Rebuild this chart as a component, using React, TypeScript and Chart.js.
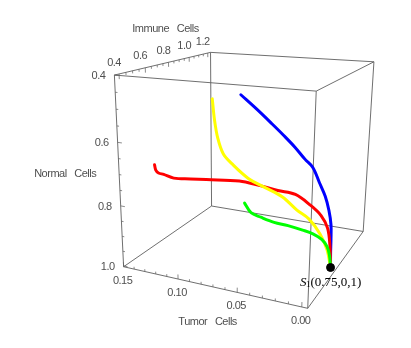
import React, { useEffect, useRef } from "react";
import { Chart, registerables } from "chart.js";

Chart.register(...registerables);

// ---- plot box ranges (tumor, immune, normal) ----
const TUMOR_RANGE = [-0.0044, 0.15];
const IMMUNE_RANGE = [0.367, 1.232];
const NORMAL_RANGE = [0.4, 1.0027];

// ---- ticks ----
const tumorTicks = [0, 0.05, 0.1, 0.15];
const tumorTickLabels = ["0.00", "0.05", "0.10", "0.15"];
const tumorMinorStep = 0.01;
const immuneTicks = [0.4, 0.6, 0.8, 1.0, 1.2];
const immuneTickLabels = ["0.4", "0.6", "0.8", "1.0", "1.2"];
const immuneMinorStep = 0.05;
const normalTicks = [0.4, 0.6, 0.8, 1.0];
const normalTickLabels = ["0.4", "0.6", "0.8", "1.0"];
const normalMinorStep = 0.05;

const axisTitles = { tumor: "Tumor   Cells", immune: "Immune   Cells", normal: "Normal   Cells" };

// ---- trajectories (tumor, immune, normal) ----
const blueTumor = [0.085, 0.07, 0.056, 0.044, 0.034, 0.024, 0.017, 0.01, 0.005, 0.001, 0, 0, 0, 0];
const blueImmune = [0.821, 0.81, 0.8, 0.778, 0.767, 0.745, 0.735, 0.713, 0.713, 0.702, 0.724, 0.735, 0.74, 0.75];
const blueNormal = [0.49, 0.53, 0.57, 0.6, 0.63, 0.66, 0.68, 0.72, 0.76, 0.8, 0.85, 0.9, 0.95, 1.0];

const redTumor = [0.135, 0.134, 0.132, 0.128, 0.12, 0.107, 0.095, 0.07, 0.055, 0.04, 0.027, 0.015, 0.007, 0.002, 0, 0];
const redImmune = [0.518, 0.518, 0.522, 0.529, 0.54, 0.562, 0.583, 0.627, 0.648, 0.659, 0.681, 0.691, 0.702, 0.713, 0.724, 0.75];
const redNormal = [0.69, 0.707, 0.716, 0.72, 0.73, 0.73, 0.73, 0.73, 0.74, 0.75, 0.76, 0.79, 0.82, 0.86, 0.92, 1.0];

const yellowTumor = [0.11, 0.108, 0.105, 0.1, 0.092, 0.076, 0.06, 0.044, 0.03, 0.019, 0.009, 0.003, 0];
const yellowImmune = [0.81, 0.81, 0.81, 0.81, 0.81, 0.8, 0.789, 0.778, 0.756, 0.745, 0.735, 0.74, 0.75];
const yellowNormal = [0.51, 0.58, 0.64, 0.69, 0.72, 0.76, 0.78, 0.8, 0.83, 0.85, 0.89, 0.94, 1.0];

const greenTumor = [0.08, 0.074, 0.065, 0.053, 0.04, 0.026, 0.016, 0.008, 0.003, 0.001, 0];
const greenImmune = [0.81, 0.81, 0.81, 0.81, 0.8, 0.778, 0.756, 0.745, 0.74, 0.745, 0.75];
const greenNormal = [0.85, 0.88, 0.89, 0.9, 0.9, 0.9, 0.9, 0.91, 0.93, 0.96, 1.0];

// equilibrium S1 = (immune, tumor, normal)
const s1Tumor = 0;
const s1Immune = 0.75;
const s1Normal = 1;

// ---- view (perspective camera) ----
const CAMERA_EYE = [1.3078, -3.0414, 0.9719];
const CAMERA_YAW = 2.0184;
const CAMERA_PITCH = 0.2811;
const CAMERA_FOCAL = 664.87;
const VIEW_CENTER = [226.69, 158.12];
const BOX_SCALE = [0.9993, 1.0066, 1];
const VIEW_W = 411;
const VIEW_H = 348;

const frac = (v: number, r: number[]) => (v - r[0]) / (r[1] - r[0]);

function project(T: number, I: number, N: number) {
  const W = [
    BOX_SCALE[0] * (0.5 - frac(T, TUMOR_RANGE)),
    BOX_SCALE[1] * (frac(I, IMMUNE_RANGE) - 0.5),
    BOX_SCALE[2] * (0.5 - frac(N, NORMAL_RANGE)),
  ];
  const fw = [
    Math.cos(CAMERA_PITCH) * Math.cos(CAMERA_YAW),
    Math.cos(CAMERA_PITCH) * Math.sin(CAMERA_YAW),
    -Math.sin(CAMERA_PITCH),
  ];
  const r = [Math.sin(CAMERA_YAW), -Math.cos(CAMERA_YAW), 0];
  const u = [r[1] * fw[2] - r[2] * fw[1], r[2] * fw[0] - r[0] * fw[2], r[0] * fw[1] - r[1] * fw[0]];
  const q = [W[0] - CAMERA_EYE[0], W[1] - CAMERA_EYE[1], W[2] - CAMERA_EYE[2]];
  const d = (a: number[], b: number[]) => a[0] * b[0] + a[1] * b[1] + a[2] * b[2];
  const zc = d(q, fw);
  return { x: VIEW_CENTER[0] + (CAMERA_FOCAL * d(q, r)) / zc, y: VIEW_CENTER[1] - (CAMERA_FOCAL * d(q, u)) / zc };
}

const curve = (t: number[], i: number[], n: number[]) => t.map((v, k) => project(v, i[k], n[k]));

const EDGE_COLOR = "rgba(95,95,95,0.9)";
const TEXT_COLOR = "#4f4f4f";
const LABEL_FONT = "11px 'Liberation Sans', Arial, sans-serif";

function boxEdges() {
  const Ts = TUMOR_RANGE, Is = IMMUNE_RANGE, Ns = NORMAL_RANGE;
  const edges: number[][][] = [];
  for (const i of Is) for (const n of Ns) edges.push([[Ts[0], i, n], [Ts[1], i, n]]);
  for (const t of Ts) for (const n of Ns) edges.push([[t, Is[0], n], [t, Is[1], n]]);
  for (const t of Ts) for (const i of Is) edges.push([[t, i, Ns[0]], [t, i, Ns[1]]]);
  return edges.map((e) => ({
    type: "scatter" as const,
    data: e.map((p) => project(p[0], p[1], p[2])),
    showLine: true,
    borderColor: EDGE_COLOR,
    borderWidth: 1,
    pointRadius: 0,
    tension: 0,
    order: 10,
  }));
}

const isMajor = (v: number, majors: number[]) => majors.some((m) => Math.abs(m - v) < 1e-6);

const framePlugin = {
  id: "frame3d",
  beforeDatasetsDraw(chart: any) {
    const ctx: CanvasRenderingContext2D = chart.ctx;
    const sx = chart.scales.x, sy = chart.scales.y;
    const P = (T: number, I: number, N: number) => {
      const p = project(T, I, N);
      return [sx.getPixelForValue(p.x), sy.getPixelForValue(p.y)];
    };
    const seg = (a: number[], b: number[]) => {
      ctx.beginPath();
      ctx.moveTo(a[0], a[1]);
      ctx.lineTo(b[0], b[1]);
      ctx.stroke();
    };
    const tSpan = TUMOR_RANGE[1] - TUMOR_RANGE[0];
    const nSpan = NORMAL_RANGE[1] - NORMAL_RANGE[0];
    ctx.save();
    ctx.strokeStyle = EDGE_COLOR;
    ctx.lineWidth = 0.8;
    // tumor axis: edge immune=min, normal=max ; ticks point up
    for (let k = 0; k * tumorMinorStep <= 0.15 + 1e-9; k++) {
      const t = +(k * tumorMinorStep).toFixed(4);
      const len = isMajor(t, tumorTicks) ? 0.025 : 0.013;
      seg(P(t, IMMUNE_RANGE[0], NORMAL_RANGE[1]), P(t, IMMUNE_RANGE[0], NORMAL_RANGE[1] - len * nSpan));
    }
    // immune axis: edge tumor=max, normal=min ; ticks point down
    for (let k = 8; k * immuneMinorStep <= 1.2 + 1e-9; k++) {
      const i = +(k * immuneMinorStep).toFixed(4);
      const len = isMajor(i, immuneTicks) ? 0.025 : 0.013;
      seg(P(TUMOR_RANGE[1], i, NORMAL_RANGE[0]), P(TUMOR_RANGE[1], i, NORMAL_RANGE[0] + len * nSpan));
    }
    // normal axis: edge tumor=max, immune=min ; ticks point into box
    for (let k = 8; k * normalMinorStep <= 1.0 + 1e-9; k++) {
      const n = +(k * normalMinorStep).toFixed(4);
      const len = isMajor(n, normalTicks) ? 0.025 : 0.013;
      seg(P(TUMOR_RANGE[1], IMMUNE_RANGE[0], n), P(TUMOR_RANGE[1] - len * tSpan, IMMUNE_RANGE[0], n));
    }
    // labels
    ctx.fillStyle = TEXT_COLOR;
    ctx.font = LABEL_FONT;
    (ctx as any).letterSpacing = "-0.5px";
    ctx.textBaseline = "middle";
    ctx.textAlign = "center";
    tumorTicks.forEach((t, k) => {
      const p = P(t, IMMUNE_RANGE[0], NORMAL_RANGE[1]);
      ctx.fillText(tumorTickLabels[k], p[0] - 1, p[1] + 14);
    });
    immuneTicks.forEach((i, k) => {
      const p = P(TUMOR_RANGE[1], i, NORMAL_RANGE[0]);
      ctx.fillText(immuneTickLabels[k], p[0] - 5, p[1] - 11.5);
    });
    ctx.textAlign = "right";
    normalTicks.forEach((n, k) => {
      const p = P(TUMOR_RANGE[1], IMMUNE_RANGE[0], n);
      ctx.fillText(normalTickLabels[k], p[0] - 9, p[1] + 1);
    });
    // axis titles
    ctx.textAlign = "center";
    const tm = P((TUMOR_RANGE[0] + TUMOR_RANGE[1]) / 2, IMMUNE_RANGE[0], NORMAL_RANGE[1]);
    ctx.fillText(axisTitles.tumor, tm[0] - 2, tm[1] + 36);
    const im = P(TUMOR_RANGE[1], 0.8, NORMAL_RANGE[0]);
    ctx.fillText(axisTitles.immune, im[0] - 3, im[1] - 33);
    const nm = P(TUMOR_RANGE[1], IMMUNE_RANGE[0], (NORMAL_RANGE[0] + NORMAL_RANGE[1]) / 2);
    ctx.fillText(axisTitles.normal, nm[0] - 54, nm[1] - 1.5);
    ctx.restore();
  },
  afterDatasetsDraw(chart: any) {
    const ctx: CanvasRenderingContext2D = chart.ctx;
    const p = project(s1Tumor, s1Immune, s1Normal);
    const x = chart.scales.x.getPixelForValue(p.x) - 30.6;
    const y = chart.scales.y.getPixelForValue(p.y) + 18.6;
    ctx.save();
    ctx.fillStyle = "#000";
    ctx.textBaseline = "alphabetic";
    ctx.textAlign = "left";
    ctx.font = "italic 13px 'Liberation Serif', 'Times New Roman', serif";
    ctx.fillText("S", x, y);
    let cx = x + ctx.measureText("S").width;
    ctx.font = "9px 'Liberation Serif', 'Times New Roman', serif";
    ctx.fillText("1", cx - 0.5, y + 1);
    cx += ctx.measureText("1").width - 0.5;
    ctx.font = "13px 'Liberation Serif', 'Times New Roman', serif";
    ctx.fillText(`(${s1Immune},${s1Tumor},${s1Normal})`, cx, y);
    ctx.restore();
  },
};

export default function App() {
  const ref = useRef<HTMLCanvasElement>(null);
  useEffect(() => {
    if (!ref.current) return;
    const line = (data: any[], color: string) => ({
      type: "scatter" as const,
      data,
      showLine: true,
      borderColor: color,
      borderWidth: 3,
      pointRadius: 0,
      tension: 0.35,
      borderCapStyle: "round" as const,
      borderJoinStyle: "round" as const,
      order: 5,
    });
    const chart = new Chart(ref.current, {
      type: "scatter",
      data: {
        datasets: [
          {
            type: "scatter",
            data: [project(s1Tumor, s1Immune, s1Normal)],
            pointRadius: 4,
            pointBackgroundColor: "#000",
            pointBorderColor: "#000",
            order: 0,
          },
          line(curve(greenTumor, greenImmune, greenNormal), "#00ff00"),
          line(curve(yellowTumor, yellowImmune, yellowNormal), "#ffff00"),
          line(curve(redTumor, redImmune, redNormal), "#ff0000"),
          line(curve(blueTumor, blueImmune, blueNormal), "#0000ff"),
          ...boxEdges(),
        ] as any,
      },
      options: {
        animation: false,
        responsive: false,
        maintainAspectRatio: false,
        events: [],
        layout: { padding: 0 },
        scales: {
          x: { type: "linear", min: 0, max: VIEW_W, display: false },
          y: { type: "linear", min: 0, max: VIEW_H, reverse: true, display: false },
        },
        plugins: { legend: { display: false }, tooltip: { enabled: false } },
      },
      plugins: [framePlugin],
    });
    return () => chart.destroy();
  }, []);
  return (
    <div style={{ position: "fixed", left: 0, top: 0, width: VIEW_W, height: VIEW_H, background: "#fff" }}>
      <canvas ref={ref} width={VIEW_W} height={VIEW_H} style={{ display: "block" }} />
    </div>
  );
}
